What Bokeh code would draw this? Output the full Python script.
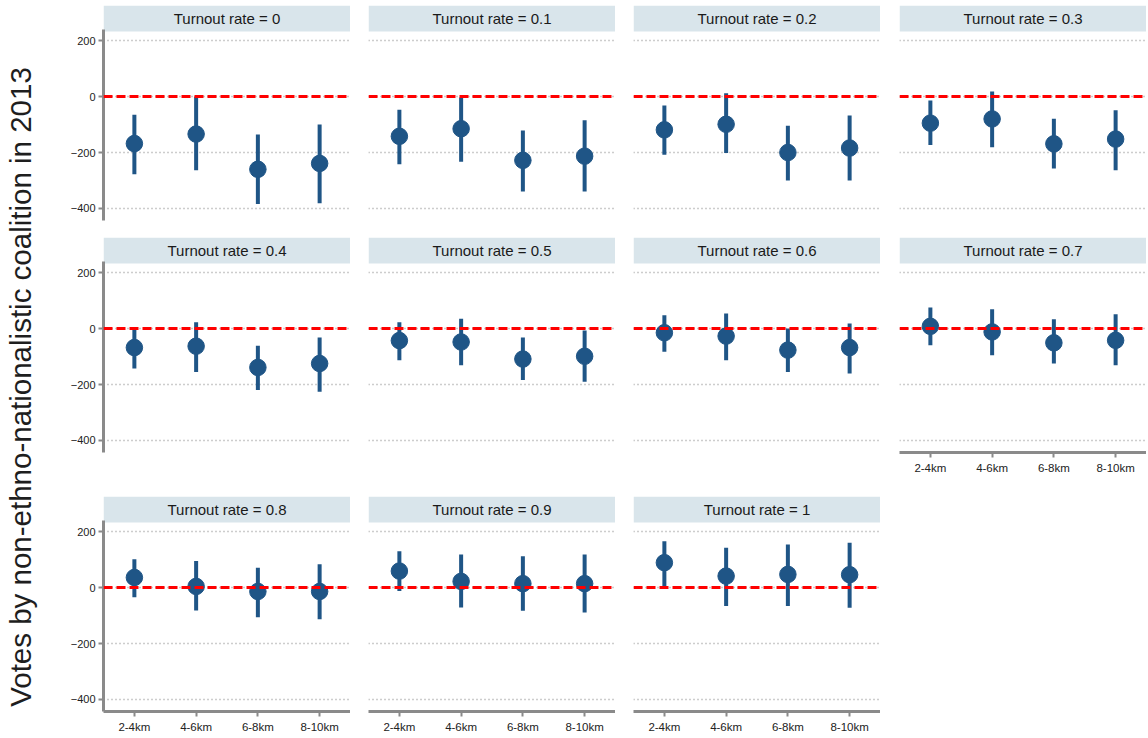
import math
from bokeh.plotting import figure
from bokeh.layouts import row, column
from bokeh.models import (FactorRange, Range1d, FixedTicker, Span, BoxAnnotation,
                          Label, ColumnDataSource)
from bokeh.embed import file_html
from bokeh.resources import INLINE

# ---------------- data ----------------
turnout_rates = ["0", "0.1", "0.2", "0.3", "0.4", "0.5", "0.6", "0.7", "0.8", "0.9", "1"]
distance_bands = ["2-4km", "4-6km", "6-8km", "8-10km"]
y_ticks = [-400, -200, 0, 200]

point_est = [
    [-168, -134, -260, -239],
    [-142, -115, -228, -213],
    [-119, -99, -200, -184],
    [-95, -80, -169, -152],
    [-68, -63, -139, -125],
    [-43, -48, -109, -99],
    [-15, -27, -77, -68],
    [8, -12, -51, -42],
    [36, 4, -14, -14],
    [59, 22, 14, 14],
    [89, 41, 47, 46],
]
ci_low = [
    [-278, -263, -384, -381],
    [-242, -233, -339, -339],
    [-208, -202, -300, -300],
    [-173, -181, -257, -263],
    [-143, -155, -220, -226],
    [-113, -131, -184, -190],
    [-83, -113, -155, -161],
    [-60, -95, -125, -131],
    [-35, -82, -106, -113],
    [-12, -71, -83, -89],
    [0, -66, -66, -72],
]
ci_high = [
    [-65, 0, -136, -100],
    [-47, -3, -121, -85],
    [-32, 12, -104, -68],
    [-14, 18, -79, -49],
    [4, 23, -61, -32],
    [23, 35, -32, -7],
    [48, 54, 0, 18],
    [75, 69, 33, 51],
    [101, 95, 71, 83],
    [130, 118, 112, 118],
    [166, 142, 154, 160],
]

y_title = "Votes by non-ethno-nationalistic coalition in 2013"

# ---------------- style ----------------
FONT = "Liberation Sans"
BLUE = "#1f5586"
STRIP = "#d9e5eb"
AXIS_GRAY = "#8a8a8a"
GRID_GRAY = "#9a9a9a"

Y_LO, Y_DATA_HI = -443, 229
FRAME_W = 247
DATA_H = 188
STRIP_H = 26
GAP_H = 1
FRAME_H = DATA_H + GAP_H + STRIP_H
units_per_px = (Y_DATA_HI - Y_LO) / DATA_H
Y_HI = Y_DATA_HI + (STRIP_H + GAP_H) * units_per_px
STRIP_BOTTOM = Y_DATA_HI + GAP_H * units_per_px
STRIP_MID = (STRIP_BOTTOM + Y_HI) / 2

LABEL_W = 39
left_borders = [64, 18, 18, 19]
top_borders = [5, 0, 0]
bottom_borders = [17, 44, 26]


def make_panel(i):
    r, c = divmod(i, 4)
    has_left = (c == 0)
    has_bottom = (r == 2) or (r == 1 and c == 3)
    p = figure(
        x_range=FactorRange(factors=distance_bands, range_padding=0),
        y_range=Range1d(Y_LO, Y_HI),
        width=left_borders[c] + FRAME_W,
        height=top_borders[r] + FRAME_H + bottom_borders[r],
        min_border_left=left_borders[c], min_border_right=0,
        min_border_top=top_borders[r], min_border_bottom=bottom_borders[r],
        x_axis_location="below" if has_bottom else None,
        y_axis_location="left" if has_left else None,
        output_backend="svg", toolbar_location=None,
        background_fill_color="white", border_fill_color="white",
    )
    p.outline_line_color = None
    p.xgrid.visible = False
    p.ygrid.ticker = FixedTicker(ticks=y_ticks)
    p.ygrid.grid_line_color = GRID_GRAY
    p.ygrid.grid_line_dash = "1 3"
    p.ygrid.grid_line_width = 1.3

    if has_left:
        ax = p.yaxis[0]
        ax.ticker = FixedTicker(ticks=y_ticks)
        ax.bounds = (Y_LO, Y_DATA_HI + 3 * units_per_px)
        ax.axis_line_color = AXIS_GRAY
        ax.axis_line_width = 3
        ax.major_tick_line_color = AXIS_GRAY
        ax.major_tick_line_width = 2
        ax.major_tick_in = 0
        ax.major_tick_out = 5
        ax.minor_tick_line_color = None
        ax.major_label_text_font = FONT
        ax.major_label_text_font_size = "11px"
        ax.major_label_text_color = "#222222"
        ax.major_label_standoff = 3
    if has_bottom:
        ax = p.xaxis[0]
        ax.axis_line_color = AXIS_GRAY
        ax.axis_line_width = 3
        ax.major_tick_line_color = AXIS_GRAY
        ax.major_tick_line_width = 2
        ax.major_tick_in = 0
        ax.major_tick_out = 5
        ax.minor_tick_line_color = None
        ax.major_label_text_font = FONT
        ax.major_label_text_font_size = "11.5px"
        ax.major_label_text_color = "#222222"
        ax.major_label_standoff = 4

    # strip header
    p.add_layout(BoxAnnotation(bottom=STRIP_BOTTOM, fill_color=STRIP, fill_alpha=1.0,
                               line_color=None, level="underlay"))
    p.add_layout(Label(x=FRAME_W / 2, x_units="screen", y=STRIP_MID, y_units="data",
                       text="Turnout rate = " + turnout_rates[i],
                       text_font=FONT, text_font_size="15px", text_color="#1a1a1a",
                       text_align="center", text_baseline="middle"))

    # reference line at zero
    p.add_layout(Span(location=0, dimension="width", line_color="#ff0000",
                      line_dash="9 4", line_width=3))

    src = ColumnDataSource(dict(band=distance_bands, est=point_est[i],
                                lo=ci_low[i], hi=ci_high[i]))
    p.segment(x0="band", y0="lo", x1="band", y1="hi", source=src,
              line_color=BLUE, line_width=4)
    p.scatter(x="band", y="est", source=src, size=16.5, marker="circle",
              fill_color=BLUE, line_color=BLUE)
    return p


panels = [make_panel(i) for i in range(len(turnout_rates))]
rows = [row(*panels[k:k + 4]) for k in range(0, len(panels), 4)]
grid = column(*rows)

total_h = sum(top_borders[r] + FRAME_H + bottom_borders[r] for r in range(3))
lab = figure(width=LABEL_W, height=total_h, x_range=Range1d(0, 1), y_range=Range1d(0, 1),
             min_border_left=0, min_border_right=0, min_border_top=0, min_border_bottom=0,
             x_axis_location=None, y_axis_location=None,
             output_backend="svg", toolbar_location=None)
lab.outline_line_color = None
lab.xgrid.visible = False
lab.ygrid.visible = False
lab.add_layout(Label(x=20 / LABEL_W, y=1 - 386.5 / total_h, text=y_title, angle=math.pi / 2,
                     text_font=FONT, text_font_size="29.5px", text_color="#1e1e1e",
                     text_align="center", text_baseline="middle"))

layout = row(lab, grid)
open("out.html", "w").write(file_html(layout, INLINE))
